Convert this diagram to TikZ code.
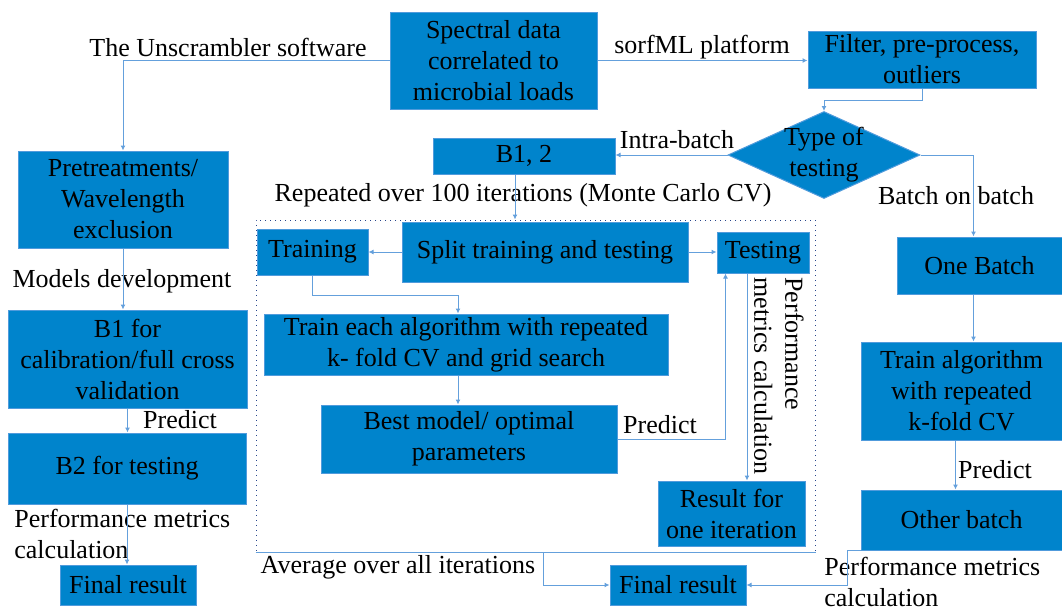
\documentclass[tikz,border=0pt]{standalone}
\usepackage{fontspec}
\setmainfont{Liberation Serif}
\usetikzlibrary{arrows.meta,shapes.geometric}
\definecolor{boxblue}{RGB}{0,132,204}
\definecolor{boxedge}{RGB}{80,155,220}
\definecolor{linkblue}{RGB}{100,160,220}
\definecolor{dotblue}{RGB}{40,70,140}

\begin{document}
\begin{tikzpicture}[x=0.5pt, y=-0.5pt,
  every node/.style={font=\fontsize{13}{15.5}\selectfont, align=center, inner sep=1pt},
  box/.style={rectangle, fill=boxblue, draw=boxedge, line width=0.5pt},
  decision/.style={diamond, fill=boxblue, draw=boxedge, line width=0.5pt, inner sep=0pt},
  arr/.style={draw=linkblue, line width=0.5pt, -{Latex[length=2.5pt,width=2.5pt]}},
  link/.style={draw=linkblue, line width=0.5pt}]
\useasboundingbox (0,0) rectangle (1062,611);
% Top row
\node[box, minimum width=103.5pt, minimum height=48.5pt] (spec) at (493.5,60.5) {Spectral data\\correlated to\\microbial loads};
\node[box, minimum width=114pt, minimum height=28.5pt] (filt) at (922,59.5) {Filter, pre-process,\\outliers};
\node[decision, minimum width=96pt, minimum height=43.5pt] (type) at (824,155) {};
\node (typetxt) at (type.center) {Type of\\testing};
\node[box, minimum width=91pt, minimum height=18pt] (b12) at (524,156) {B1, 2};
% Left branch
\node[box, minimum width=105pt, minimum height=48.5pt] (pre) at (123,199.5) {Pretreatments/\\Wavelength\\exclusion};
\node[box, minimum width=119.5pt, minimum height=49pt] (b1) at (127.5,359) {B1 for\\calibration/full cross\\validation};
\node[box, minimum width=119pt, minimum height=35.5pt] (b2) at (127,468.5) {B2 for testing};
\node[box, minimum width=68pt, minimum height=20pt] (fin1) at (128,585) {Final result};
% Monte Carlo loop
\node[draw=dotblue, dotted, line width=0.5pt, minimum width=279.5pt, minimum height=166pt, inner sep=0pt] (loop) at (535.5,386) {};
\node[box, minimum width=55.5pt, minimum height=23pt] (train) at (312.5,252) {Training};
\node[box, minimum width=143pt, minimum height=30pt] (split) at (545,252) {Split training and testing};
\node[box, minimum width=46pt, minimum height=20.5pt] (test) at (763,252.5) {Testing};
\node[box, minimum width=202pt, minimum height=30.5pt] (each) at (466,344.5) {Train each algorithm with repeated\\k- fold CV and grid search};
\node[box, minimum width=148pt, minimum height=34pt] (best) at (469,439) {Best model/ optimal\\parameters};
\node[box, minimum width=73.5pt, minimum height=32.5pt] (res) at (731.5,513.5) {Result for\\one iteration};
\node[box, minimum width=68pt, minimum height=20pt] (fin2) at (678,585) {Final result};
% Batch on batch
\node[box, minimum width=82.5pt, minimum height=28.5pt] (one) at (979.5,265.5) {One Batch};
\node[box, minimum width=100.5pt, minimum height=49pt] (talg) at (961.5,391) {Train algorithm\\with repeated\\k-fold CV};
\node[box, minimum width=100.5pt, minimum height=30pt] (oth) at (961.5,520) {Other batch};
% Labels
\node (lblunscr) at (228,47) {The Unscrambler software};
\node (lblsorf) at (702,47) {sorfML platform};
\node (lblintra) at (677,140) {Intra-batch};
\node (lblbob) at (956,196) {Batch on batch};
\node (lblrep) at (523,195) {Repeated over 100 iterations (Monte Carlo CV)};
\node (lblmod) at (122,281) {Models development};
\node (lblpred1) at (180,420) {Predict};
\node[anchor=west, align=left] (lblperf1) at (12,534) {Performance metrics\\calculation};
\node (lblpred2) at (660,425) {Predict};
\node[rotate=-90, anchor=north west, align=left, inner sep=0pt] (lblperf2) at (804,277) {Performance\\metrics calculation};
\node (lblavg) at (398,567) {Average over all iterations};
\node[anchor=west, align=left] (lblperf3) at (822,582) {Performance metrics\\calculation};
\node (lblpred3) at (995,470) {Predict};
% Connectors
\draw[arr] (spec.west) -| (pre.north);
\draw[arr] (spec.east) -- (spec.east -| filt.west);
\draw[arr] (filt.south) -- ++(0,12) -| (type.north);
\draw[arr] (type.west) -- (type.west -| b12.east);
\draw[arr] (type.east) -| ([xshift=-3pt]one.north);
\draw[arr] ([xshift=-4.5pt]b12.south) -- ([xshift=-4.5pt]b12.south |- loop.north);
\draw[arr] (split.west) -- (train.east);
\draw[arr] (split.east) -- (split.east -| test.west);
\draw[arr] (train.south) -- ++(0,20) -| ([xshift=-4pt]each.north);
\draw[arr] ([xshift=-4pt]each.south) -- ([xshift=-4pt]each.south |- best.north);
\draw[arr] (best.east) -| ([xshift=4.5pt]test.south west);
\draw[arr] ([xshift=-8pt]test.south) -- ([xshift=-8pt]test.south |- res.north);
\draw[link] (loop.south west) -- (loop.south east);
\draw[arr] ([xshift=4pt]loop.south) |- (fin2.west);
\draw[arr] (oth.south west) -- ++(-13,0) |- (fin2.east);
\draw[arr] ([xshift=-3pt]one.south) -- ([xshift=-3pt]one.south |- talg.north);
\draw[arr] ([xshift=-3pt]talg.south) -- ([xshift=-3pt]talg.south |- oth.north);
\draw[arr] (pre.south) -- (pre.south |- b1.north);
\draw[arr] (b1.south) -- (b1.south |- b2.north);
\draw[arr] (b2.south) -- (b2.south |- fin1.north);
\end{tikzpicture}
\end{document}
